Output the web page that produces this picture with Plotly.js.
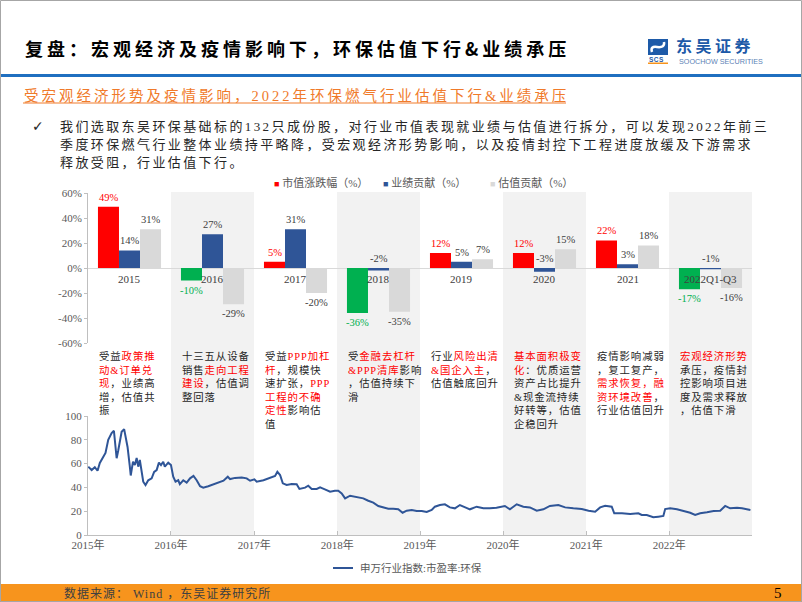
<!DOCTYPE html>
<html><head><meta charset="utf-8">
<script src="https://cdn.plot.ly/plotly-3.0.1.min.js"></script>
<style>html,body{margin:0;padding:0;background:#fff;}#chart{width:802px;height:602px;}</style>
</head><body><div id="chart"></div>
<script>
// ---------- data ----------
const categories = ['2015','2016','2017','2018','2019','2020','2021','2022Q1-Q3'];
const seriesNames = ['市值涨跌幅（%）','业绩贡献（%）','估值贡献（%）'];
const marketCapChange = [49,-10,5,-36,12,12,22,-17];
const earningsContribution = [14,27,31,-2,5,-3,3,-1];
const valuationContribution = [31,-29,-20,-35,7,15,18,-16];
const barTicks = [-60,-40,-20,0,20,40,60];

const lineName = '申万行业指数:市盈率:环保';
const peDates = ['2015-01-02','2015-01-17','2015-01-31','2015-02-12','2015-02-22','2015-03-08','2015-03-19','2015-03-31','2015-04-15','2015-04-25','2015-04-29','2015-05-07','2015-05-14','2015-05-22','2015-05-29','2015-06-09','2015-06-15','2015-06-24','2015-07-04','2015-07-08','2015-07-18','2015-07-26','2015-08-03','2015-08-10','2015-08-17','2015-08-25','2015-09-01','2015-09-11','2015-09-23','2015-10-08','2015-10-19','2015-10-30','2015-11-09','2015-11-18','2015-11-28','2015-12-05','2015-12-20',
'2016-01-01','2016-01-11','2016-01-21','2016-02-02','2016-02-09','2016-02-24','2016-03-10','2016-03-25','2016-04-09','2016-04-23','2016-05-08','2016-05-22','2016-06-13','2016-07-06','2016-07-28','2016-08-19','2016-09-07','2016-09-17','2016-10-09','2016-11-07','2016-11-29','2016-12-14',
'2017-01-02','2017-01-12','2017-02-11','2017-03-12','2017-04-03','2017-04-13','2017-04-25','2017-05-07','2017-05-24','2017-06-15','2017-07-07','2017-07-19','2017-08-13','2017-08-27','2017-09-11','2017-10-03','2017-10-18','2017-11-08','2017-12-01','2017-12-22',
'2018-01-06','2018-01-21','2018-02-05','2018-02-27','2018-03-21','2018-04-04','2018-04-26','2018-05-18','2018-06-09','2018-07-01','2018-07-23','2018-08-14','2018-09-05','2018-09-27','2018-10-16','2018-11-03','2018-11-25','2018-12-17',
'2019-01-08','2019-01-30','2019-02-21','2019-03-07','2019-03-29','2019-04-20','2019-05-12','2019-06-03','2019-06-25','2019-07-17','2019-08-08','2019-09-07','2019-10-06','2019-11-04','2019-12-03',
'2020-01-09','2020-01-31','2020-03-01','2020-03-30','2020-04-28','2020-05-28','2020-06-26','2020-07-25','2020-08-31','2020-09-30','2020-11-05','2020-12-12',
'2021-01-11','2021-02-09','2021-03-03','2021-03-25','2021-04-23','2021-05-04','2021-06-07','2021-07-13','2021-08-18','2021-09-02','2021-09-24','2021-10-23','2021-11-14','2021-12-06','2021-12-14',
'2022-01-05','2022-02-04','2022-03-04','2022-04-03','2022-04-25','2022-05-17','2022-06-16','2022-07-15','2022-08-13','2022-09-04','2022-09-26','2022-10-26','2022-11-17','2022-12-24'];
const peValues = [57.4,54.6,57,54,60.5,66,69,80,85.7,87.6,77,64.5,71,80,86.8,89,84,74,57.4,50,61.6,58.8,64.7,57.4,63,52,44.8,42,46,47.6,53,54.6,60.8,58.8,61.6,57.4,60.8,
58.8,49,44.8,46,42.8,46,44,47.6,49.6,46,41,39.8,41,42.8,44,45.6,49,47,48,48.4,47.6,45.6,
46.8,44.8,46,48,49.6,53.2,50.4,43.4,42,42.8,42.6,38.7,39.8,41.4,38.7,38.7,40,38.4,36.4,37.2,
37.2,35,30.8,33,32.2,31.4,30.8,28.8,27.2,24.4,23.2,22.1,22.1,21.6,18.7,20.4,21,20.2,
20.2,19.3,21,23.8,25.2,25.8,23.2,22.4,25.2,23.2,21.6,23.8,22.4,22.4,22.9,
24.4,21.6,25.8,23.8,23.2,20.4,21.6,24.4,25.2,23.2,22.4,21.8,
20.4,19.6,23.2,24.6,23.8,18.2,18.2,17.6,18.2,16.8,16.8,14.9,15.4,16,21.8,
22.4,21.6,20.4,18.7,16.8,18.2,19.1,20.2,20.4,24.4,22.4,22.9,22.4,21];

// commentary under each column; {...} = red text
const commentary = [
  ['受益{政策推}','{动&amp;订单兑}','{现}，业绩高','增，估值共','振'],
  ['十三五从设备','销售{走向工程}','{建设}，估值调','整回落'],
  ['受益{PPP加杠}','{杆}，规模快','速扩张，{PPP}','{工程的不确}','{定性}影响估','值'],
  ['受{金融去杠杆}','{&amp;PPP清库}影响','，估值持续下','滑'],
  ['行业{风险出清}','{&amp;国企入主}，','估值触底回升'],
  ['{基本面积极变}','{化}：优质运营','资产占比提升','&amp;现金流持续','好转等，估值','企稳回升'],
  ['疫情影响减弱','，复工复产，','{需求恢复，融}','{资环境改善}，','行业估值回升'],
  ['{宏观经济形势}','承压，疫情封','控影响项目进','度及需求释放','，估值下滑']
];

const pageTitle = '复盘：宏观经济及疫情影响下，环保估值下行&amp;业绩承压';
const subTitle = '受宏观经济形势及疫情影响，2022年环保燃气行业估值下行&amp;业绩承压';
const bulletLines = [
  '我们选取东吴环保基础标的132只成份股，对行业市值表现就业绩与估值进行拆分，可以发现2022年前三',
  '季度环保燃气行业整体业绩持平略降，受宏观经济形势影响，以及疫情封控下工程进度放缓及下游需求',
  '释放受阻，行业估值下行。'
];
const sourceText = '数据来源： Wind ，东吴证券研究所';
const pageNumber = '5';

// ---------- styling ----------
const W = 802, H = 602;
const px = x => x / W, py = y => 1 - y / H;
const SERIF = "'Liberation Serif', 'Noto Sans CJK SC', serif";
const RED = '#ff0000', GREEN = '#00b050', BLUE = '#2f5597', GREY = '#d9d9d9';
const ORANGE = '#f07a2a';

function ls(text, sp, color) {
  return `<span style="letter-spacing:${sp}px${color ? ';color:' + color : ''}">${text}</span>`;
}
function markup(line, sp) {
  return line.split(/(\{[^}]*\})/).filter(s => s).map(p =>
    p.startsWith('{') ? ls(p.slice(1, -1), sp, RED) : ls(p, sp)).join('');
}

const traces = [
  {type:'bar', x:categories, y:marketCapChange, name:seriesNames[0],
   marker:{color:marketCapChange.map(v => v >= 0 ? RED : GREEN)}, hoverinfo:'none'},
  {type:'bar', x:categories, y:earningsContribution, name:seriesNames[1],
   marker:{color:BLUE}, hoverinfo:'none'},
  {type:'bar', x:categories, y:valuationContribution, name:seriesNames[2],
   marker:{color:GREY}, hoverinfo:'none'},
  {type:'scatter', mode:'lines', x:peDates, y:peValues, name:lineName,
   xaxis:'x2', yaxis:'y2', line:{color:BLUE, width:2}, hoverinfo:'none'}
];

const shapes = [];
// shaded alternating columns
categories.forEach((c, i) => {
  if (i % 2 === 1) shapes.push({type:'rect', xref:'x', yref:'paper', x0:i - 0.5, x1:i + 0.5,
    y0:py(535), y1:py(192), fillcolor:'#f2f2f2', line:{width:0}, layer:'below'});
});
// slide decorations
shapes.push(
  {type:'rect', xref:'paper', yref:'paper', x0:0, x1:1, y0:py(77), y1:py(74), fillcolor:'#1f6fc0', line:{width:0}},
  {type:'line', xref:'paper', yref:'paper', x0:px(23), x1:px(566), y0:py(103), y1:py(103), line:{color:ORANGE, width:1}},
  {type:'rect', xref:'paper', yref:'paper', x0:0, x1:1, y0:0, y1:py(584), fillcolor:'#f7941d', line:{width:0}},
  {type:'rect', xref:'paper', yref:'paper', x0:px(0.5), x1:px(801.5), y0:py(601.5), y1:py(0.5), line:{color:'#a6a6a6', width:1}},
  // logo icon
  {type:'rect', xref:'paper', yref:'paper', x0:px(648), x1:px(668), y0:py(55), y1:py(39), fillcolor:'#1d5aa8', line:{width:0}},
  {type:'path', xref:'paper', yref:'paper', path:`M ${px(652)} ${py(52)} Q ${px(650)} ${py(46)} ${px(657)} ${py(47)} Q ${px(665)} ${py(48)} ${px(664)} ${py(42)}`, line:{color:'#ffffff', width:2.5}},
  {type:'rect', xref:'paper', yref:'paper', x0:px(648), x1:px(668), y0:py(64), y1:py(62.5), fillcolor:'#f7941d', line:{width:0}},
  // line legend sample
  {type:'line', xref:'paper', yref:'paper', x0:px(333), x1:px(353), y0:py(568), y1:py(568), line:{color:BLUE, width:2}}
);

const annotations = [];
const P = (x, y, text, font, extra) => Object.assign({xref:'paper', yref:'paper', x:px(x), y:py(y), text,
  showarrow:false, xanchor:'left', yanchor:'middle', font, align:'left'}, extra || {});

// header
annotations.push(P(23, 48, ls(pageTitle, 4), {family:"'Noto Sans CJK SC', sans-serif", size:18, color:'#000', weight:700}));
annotations.push(P(674, 45, ls('东吴证券', 3.5), {family:"'Noto Sans CJK SC', sans-serif", size:16, color:'#1d5aa8', weight:700}));
annotations.push(P(677, 61.5, 'SOOCHOW SECURITIES', {family:"'Liberation Sans', Arial, sans-serif", size:7.2, color:'#5b7fb5'}));
annotations.push(P(647, 59.5, ls('SCS', 0.5), {family:"'Liberation Sans', Arial, sans-serif", size:6.5, color:'#1d5aa8', weight:700}));
annotations.push(P(22, 96, ls(subTitle, 3), {family:SERIF, size:14.5, color:ORANGE}));
annotations.push(P(30, 126, '✓', {family:"'DejaVu Sans', sans-serif", size:14, color:'#262626'}));
const bulletY = [126, 145, 163];
bulletLines.forEach((t, i) => annotations.push(P(58, bulletY[i], ls(t, 2.4), {family:SERIF, size:13, color:'#262626'})));

// bar legend
const legendX = [272, 381, 488];
const legendCol = [RED, BLUE, GREY];
seriesNames.forEach((n, i) => annotations.push(P(legendX[i], 182,
  `<span style="color:${legendCol[i]};font-size:9px">■</span> ${n}`, {family:SERIF, size:11, color:'#595959'})));

// bar value labels
const barSeries = [marketCapChange, earningsContribution, valuationContribution];
const barBarPx = 21;
barSeries.forEach((vals, s) => {
  vals.forEach((v, i) => {
    let color = '#404040';
    if (s === 0) color = v >= 0 ? RED : GREEN;
    const smallNeg = s === 1 && v < 0 && v > -5;
    annotations.push({xref:'x', yref:'y', x:i, y: smallNeg ? 0 : v,
      xshift:(s - 1) * barBarPx, yshift: (v >= 0 || smallNeg) ? 2 : -2,
      yanchor: (v >= 0 || smallNeg) ? 'bottom' : 'top', xanchor:'center',
      text: v + '%', showarrow:false, font:{family:SERIF, size:10.5, color}});
  });
});
// category labels at the zero line
categories.forEach((c, i) => annotations.push({xref:'x', yref:'y', x:i, y:0, yanchor:'top', yshift:-3,
  text:c, showarrow:false, font:{family:SERIF, size:11, color:'#404040'}}));

// commentary text
commentary.forEach((lines, i) => annotations.push({xref:'x', yref:'paper', x:i - 0.5, xshift:9,
  y:py(348), xanchor:'left', yanchor:'top', align:'left', showarrow:false,
  text: lines.map(l => markup(l, 0.9)).join('<br>'),
  font:{family:SERIF, size:10.4, color:'#262626'}}));

// line legend text
annotations.push(P(358, 568, lineName, {family:SERIF, size:10.5, color:'#595959'}));
// footer
annotations.push(P(62, 593, ls(sourceText, 1), {family:SERIF, size:12, color:'#404040'}));
annotations.push(P(772, 593, pageNumber, {family:SERIF, size:15, color:'#000'}));

const tickFont = {family:SERIF, size:11, color:'#595959'};
const layout = {
  width:W, height:H, margin:{l:0, r:0, t:0, b:0},
  paper_bgcolor:'#ffffff', plot_bgcolor:'rgba(0,0,0,0)',
  showlegend:false, barmode:'group', bargap:0.24, bargroupgap:0,
  xaxis:{type:'category', domain:[px(88), px(752)], range:[-0.5, 7.5], showticklabels:false, showgrid:false,
    zeroline:false, showline:false, ticks:'', fixedrange:true},
  yaxis:{domain:[py(343), py(193)], range:[-60, 60], tickvals:barTicks, ticktext:barTicks.map(v => v + '%'),
    showgrid:false, zeroline:true, zerolinecolor:'#d9d9d9', zerolinewidth:1,
    showline:true, linecolor:'#bfbfbf', ticks:'outside', ticklen:3, tickcolor:'#bfbfbf', tickfont:tickFont},
  xaxis2:{type:'date', domain:[px(88), px(752)], anchor:'y2', range:['2015-01-01', '2022-12-31'],
    tick0:'2015-01-01', dtick:'M12', tickformat:'%Y年', ticks:'inside', ticklen:4, tickcolor:'#bfbfbf',
    showline:true, linecolor:'#bfbfbf', showgrid:false, zeroline:false, tickfont:tickFont},
  yaxis2:{domain:[py(535), py(416)], anchor:'x2', range:[0, 100], dtick:20, showgrid:false, zeroline:false,
    showline:true, linecolor:'#bfbfbf', ticks:'outside', ticklen:3, tickcolor:'#bfbfbf', tickfont:tickFont},
  shapes, annotations
};

Plotly.newPlot('chart', traces, layout, {displayModeBar:false, staticPlot:true});
</script>
</body></html>
